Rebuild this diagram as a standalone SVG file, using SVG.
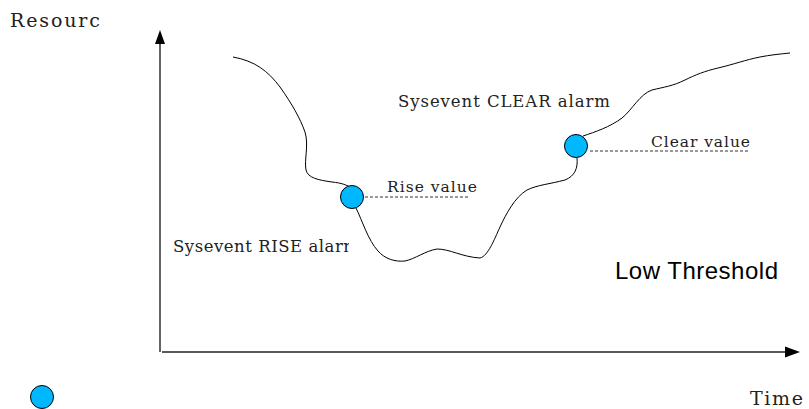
<svg xmlns="http://www.w3.org/2000/svg" width="809" height="409" viewBox="0 0 809 409">
  <style>
    .serif { font-family: "DejaVu Serif", "Liberation Serif", serif; fill: #222; }
    .sans { font-family: "Liberation Sans", Arial, sans-serif; fill: #000; }
    .axis { stroke: #222; stroke-width: 1.4; fill: none; }
    .curve { stroke: #000; stroke-width: 1; fill: none; }
    .level { stroke: #333; stroke-width: 1; stroke-dasharray: 3 2; fill: none; }
    .point { fill: #00b8ff; stroke: #000; stroke-width: 1; }
  </style>
  <defs>
    <clipPath id="clipResource"><rect x="0" y="0" width="100" height="40"/></clipPath>
    <clipPath id="clipRise"><rect x="160" y="230" width="189" height="30"/></clipPath>
  </defs>
  <rect width="809" height="409" fill="#fff"/>

  <!-- axes -->
  <g id="connectors">
    <line class="axis" x1="160" y1="352" x2="160" y2="43"/>
    <polygon points="160,30 155,44 165,44" fill="#000"/>
    <line class="axis" x1="162" y1="352" x2="786" y2="352"/>
    <polygon points="800,352 785,346.5 785,357.5" fill="#000"/>

    <!-- resource curve -->
    <path class="curve" d="M233,57 C255,61 268,71 280,87 C292,104 300,118 305,132 C309,145 304,160 306,170 C308,178 318,180 332,182 C342,183 346,185 350,187"/>
    <path class="curve" d="M356,208 C362,220 368,240 378,251 C385,259 395,262 405,261 C415,259 425,251 437,249 C450,249 462,257 480,258 C488,256 494,240 500,227 C506,214 515,197 527,190 C537,185 550,184 565,180 C575,176 578,168 577,158"/>
    <path class="curve" d="M583,136 C595,132 610,127 622,118 C632,110 640,94 652,90 C664,87 673,86 685,80 C695,75 705,71 718,68 C735,64 745,60 760,57 C770,55 780,54 790,53"/>

    <!-- threshold levels -->
    <line class="level" x1="365" y1="197" x2="469" y2="197"/>
    <line class="level" x1="590" y1="151" x2="748" y2="151"/>
  </g>

  <g id="rise-point">
    <circle class="point" cx="352" cy="197" r="11.5"/>
  </g>
  <g id="clear-point">
    <circle class="point" cx="576" cy="146" r="11.5"/>
  </g>
  <g id="legend-point">
    <circle class="point" cx="42" cy="397" r="11.5"/>
  </g>

  <!-- labels -->
  <g id="labels">
    <text class="serif" x="10" y="27" font-size="19" textLength="103" lengthAdjust="spacing" clip-path="url(#clipResource)">Resource</text>
    <text class="serif" x="398" y="107" font-size="16.5" textLength="212" lengthAdjust="spacing">Sysevent CLEAR alarm</text>
    <text class="serif" x="651" y="147" font-size="15.5" textLength="99" lengthAdjust="spacing">Clear value</text>
    <text class="serif" x="387" y="192" font-size="15.5" textLength="90" lengthAdjust="spacing">Rise value</text>
    <text class="serif" x="173" y="252" font-size="16.5" textLength="186" lengthAdjust="spacing" clip-path="url(#clipRise)">Sysevent RISE alarm</text>
    <text class="sans" x="615" y="279" font-size="24" textLength="163" lengthAdjust="spacing">Low Threshold</text>
    <text class="serif" x="750" y="405" font-size="19" textLength="53" lengthAdjust="spacing">Time</text>
  </g>
</svg>
